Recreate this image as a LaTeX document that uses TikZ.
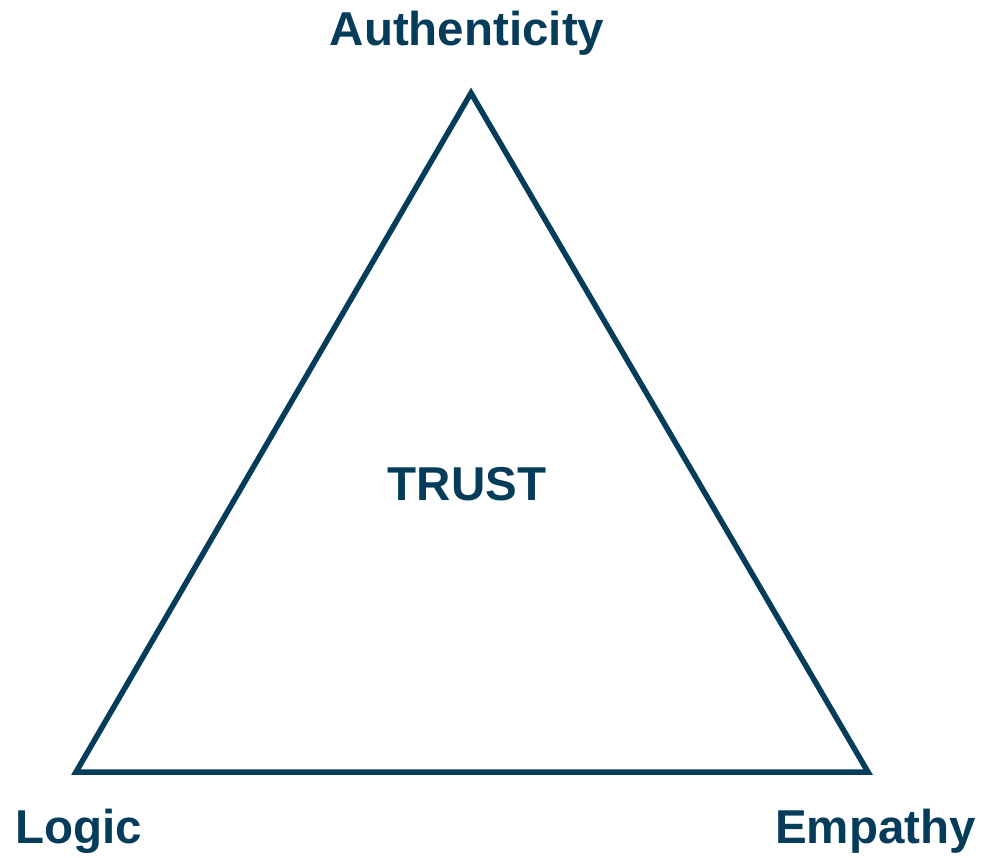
\documentclass[tikz,border=0pt]{standalone}
\usepackage{fontspec}
\setmainfont{Liberation Sans}
\definecolor{navy}{RGB}{5,60,90}
\tikzset{
  lbl/.style={font=\fontsize{47.5}{50}\selectfont\bfseries, text=navy, anchor=base, inner sep=0pt},
  tri/.style={draw=navy, line width=5.5pt, line join=miter}
}
\begin{document}
\begin{tikzpicture}[x=1pt,y=-1pt]
\useasboundingbox (0,0) rectangle (982,857);
\coordinate (A) at (471,93);
\coordinate (L) at (76,772);
\coordinate (E) at (868,772);
\draw[tri] (A) -- (E) -- (L) -- cycle;
\node[lbl] (auth) at (467,45) {Authenticity};
\node[lbl] (trust) at (467,500) {TRUST};
\node[lbl] (logic) at (79,843) {Logic};
\node[lbl] (emp) at (875.5,843) {Empathy};
\end{tikzpicture}
\end{document}
